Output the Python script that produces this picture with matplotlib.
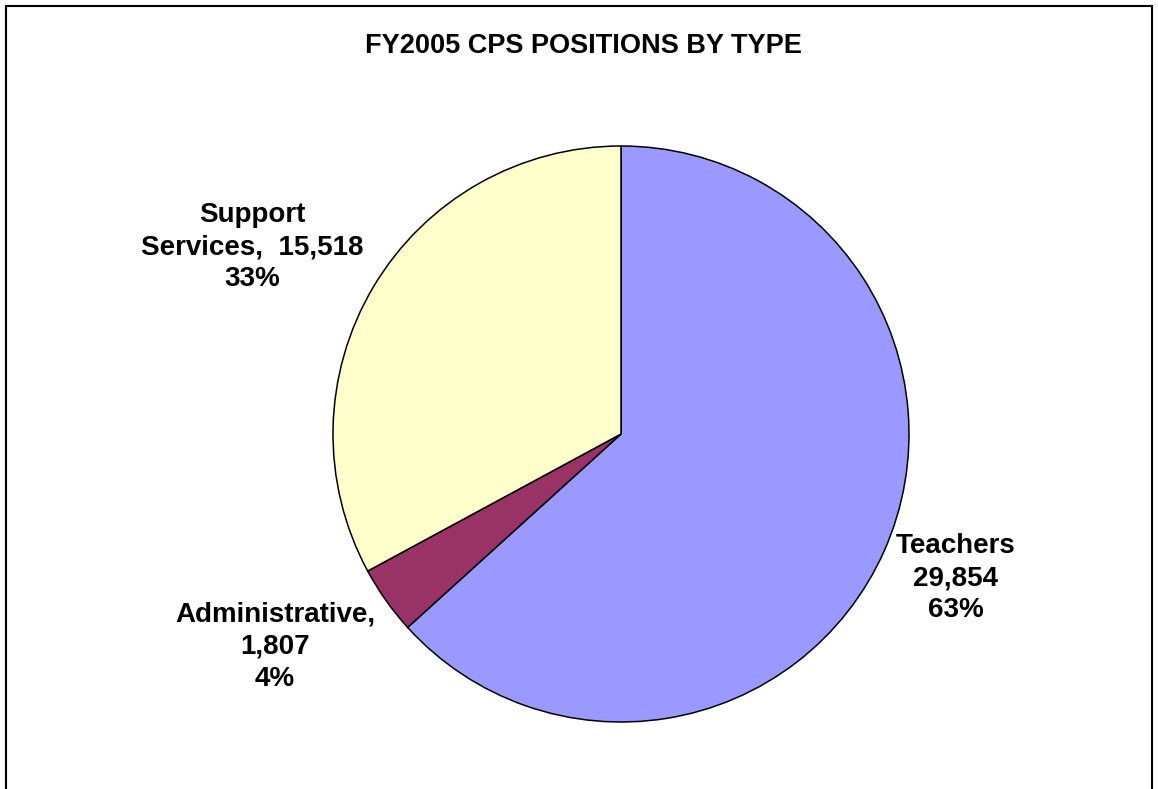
import numpy as np
import matplotlib.pyplot as plt
from matplotlib.patches import Rectangle

# FY2005 CPS positions by type
names = ["Teachers", "Administrative,", "Support\nServices,"]
counts = [29854, 1807, 15518]
pcts = ["63%", "4%", "33%"]
colors = ["#9999FF", "#993366", "#FFFFCC"]
# label placement: distance in radii, angle offset in degrees from wedge middle
label_dist = [1.265, 1.41, 1.435]
label_dang = [0.6, -3.7, 3.9]

plt.rcParams['font.family'] = ['Liberation Sans', 'DejaVu Sans']

W, H = 1158, 789
cx, cy, R = 621, 434, 288
fig = plt.figure(figsize=(W / 100, H / 100), dpi=100)
ax = fig.add_axes([0, 0, 1, 1])

wedges, _ = ax.pie(counts, colors=colors, startangle=90, counterclock=False,
                   wedgeprops=dict(edgecolor="black", linewidth=1.1))
ax.set_xlim(-cx / R, (W - cx) / R)
ax.set_ylim((cy - H) / R, cy / R)
ax.set_aspect('auto')
ax.axis('off')

for w, n, c, p, d, da in zip(wedges, names, counts, pcts, label_dist, label_dang):
    th = np.deg2rad((w.theta1 + w.theta2) / 2 + da)
    if n.startswith("Support"):
        txt = "Support\nServices,  {:,}\n{}".format(c, p)
    else:
        txt = "{}\n{:,}\n{}".format(n, c, p)
    ax.text(d * np.cos(th), d * np.sin(th), txt, ha="center", va="center",
            fontsize=20, fontweight="bold", linespacing=1.3)

fig.text(583 / W, 1 - 46 / H, "FY2005 CPS POSITIONS BY TYPE", ha="center",
         va="center", fontsize=19.5, fontweight="bold")

fig.patches.append(Rectangle((5.5 / W, -0.01), (1152 - 5.5) / W, 1.01 - 6 / H,
                             transform=fig.transFigure, fill=False,
                             edgecolor="black", linewidth=1.5))

fig.savefig("out.png", dpi=100, facecolor="white")
